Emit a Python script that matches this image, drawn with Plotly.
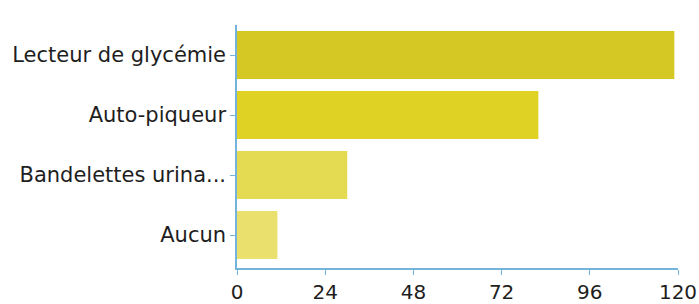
import plotly.graph_objects as go

categories = ["Lecteur de glycémie", "Auto-piqueur", "Bandelettes urina...", "Aucun"]
values = [119, 82, 30, 11]
bar_colors = ["#d6c824", "#e0d224", "#e5db52", "#e9e06e"]
x_ticks = [0, 24, 48, 72, 96, 120]

fig = go.Figure(go.Bar(
    x=values, y=categories, orientation="h",
    marker=dict(color=bar_colors, line=dict(width=0)),
    width=0.8,
))

fig.update_layout(
    width=699, height=304,
    margin=dict(l=237, r=21, t=25, b=36),
    paper_bgcolor="white", plot_bgcolor="white",
    font=dict(family="DejaVu Sans, sans-serif", color="#1e1e1e"),
    showlegend=False,
    xaxis=dict(
        range=[0, 120], tickvals=x_ticks, showgrid=False, zeroline=False,
        showline=True, linecolor="#74b4dc", linewidth=1.5,
        ticks="outside", ticklen=5, tickcolor="#74b4dc",
        tickfont=dict(size=20, color="#1e1e1e"), automargin=False,
    ),
    yaxis=dict(
        categoryorder="array", categoryarray=categories,
        range=[3.55, -0.5], showgrid=False, zeroline=False,
        showline=True, linecolor="#74b4dc", linewidth=1.5,
        ticks="outside", ticklen=5, tickcolor="#74b4dc",
        tickfont=dict(size=21, color="#1e1e1e"), automargin=False,
    ),
)

fig.write_html(
    "out.html",
    config={"displayModeBar": False},
    post_script="document.body.style.margin='0';document.body.style.overflow='hidden';",
)
